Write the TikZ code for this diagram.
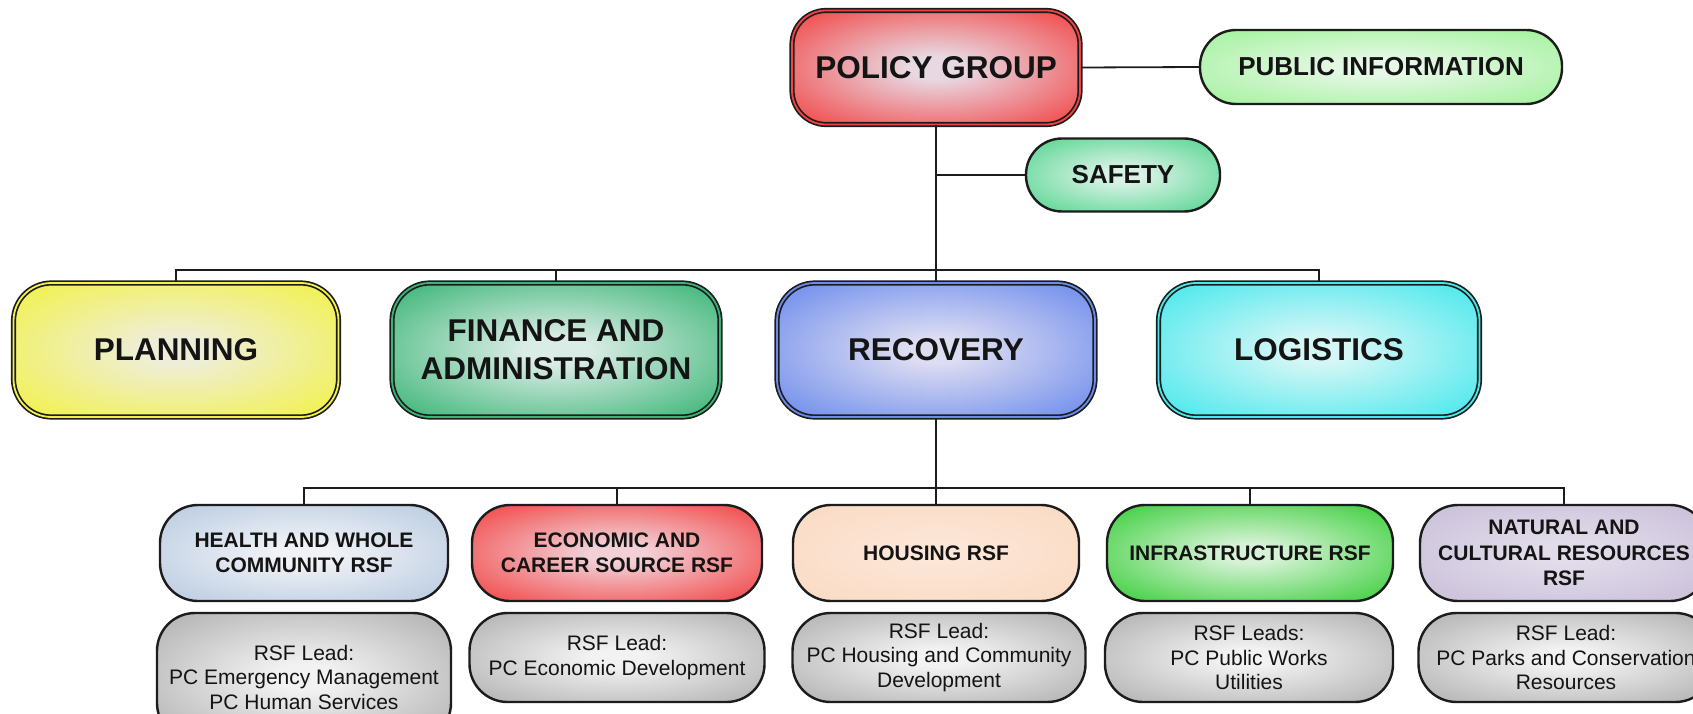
\documentclass[tikz,border=0pt]{standalone}
\usepackage{fontspec}
\setmainfont{Liberation Sans}
\makeatletter
\pgfdeclareradialshading[tikz@radial@inner,tikz@radial@outer]{softrad}{\pgfpointorigin}{color(0bp)=(tikz@radial@inner);color(5bp)=(tikz@radial@inner);color(35bp)=(tikz@radial@outer);color(50bp)=(tikz@radial@outer)}
\makeatother
\definecolor{txt}{HTML}{141414}
\definecolor{edge}{HTML}{1C1C1C}
\definecolor{polO}{HTML}{F24242}\definecolor{polI}{HTML}{E8D8E2}
\definecolor{pubO}{HTML}{A2F29C}\definecolor{pubI}{HTML}{E6F8E6}
\definecolor{safO}{HTML}{52D48C}\definecolor{safI}{HTML}{D8F2E6}
\definecolor{plaO}{HTML}{F2F246}\definecolor{plaI}{HTML}{EEEED8}
\definecolor{finO}{HTML}{38B474}\definecolor{finI}{HTML}{DAECE6}
\definecolor{recO}{HTML}{6A8AEC}\definecolor{recI}{HTML}{DCDCF2}
\definecolor{logO}{HTML}{44E8EC}\definecolor{logI}{HTML}{D4F6F6}
\definecolor{heaO}{HTML}{B8CAE0}\definecolor{heaI}{HTML}{F0F2F6}
\definecolor{ecoO}{HTML}{F24242}\definecolor{ecoI}{HTML}{F2D0D6}
\definecolor{houO}{HTML}{FADAC2}\definecolor{houI}{HTML}{FCE6D8}
\definecolor{infO}{HTML}{38CE38}\definecolor{infI}{HTML}{D6F2D6}
\definecolor{natO}{HTML}{C9BFD9}\definecolor{natI}{HTML}{E2DCEA}
\definecolor{gryO}{HTML}{B0B0B0}\definecolor{gryI}{HTML}{F2F2F2}
\tikzset{
  base/.style={rectangle, inner sep=0pt, align=center, text=txt},
  topbox/.style 2 args={base, inner color=#1, outer color=#2, shading=softrad,
    draw=edge, line width=1.7pt, double=#2, double distance=1.8pt,
    rounded corners=38pt, font=\fontsize{31.5}{38}\selectfont\bfseries},
  pill/.style 2 args={base, inner color=#1, outer color=#2, shading=softrad,
    draw=edge, line width=2.4pt, rounded corners=36pt,
    font=\fontsize{26}{31}\selectfont\bfseries},
  rsfbox/.style 2 args={base, inner color=#1, outer color=#2, shading=softrad,
    draw=edge, line width=2.4pt, rounded corners=38pt,
    font=\fontsize{21}{25.5}\selectfont\bfseries},
  leadbox/.style={base, inner color=gryI, outer color=gryO, shading=softrad,
    draw=edge, line width=2.4pt, rounded corners=38pt,
    font=\fontsize{21}{24.5}\selectfont},
  conn/.style={draw=edge, line width=1.5pt},
  trunk/.style={draw=edge, line width=2.8pt}
}
\begin{document}
\begin{tikzpicture}[x=1pt,y=-1pt]
\useasboundingbox (0,0) rectangle (1693,714);
\clip (0,0) rectangle (1693,714);
\fill[white] (0,0) rectangle (1693,714);

% top level
\node[topbox={polI}{polO}, minimum width=288pt, minimum height=114pt, rounded corners=34pt] (policy) at (936,67.5) {POLICY GROUP};
\node[pill={pubI}{pubO}, minimum width=362pt, minimum height=74pt] (public) at (1381,67) {PUBLIC INFORMATION};
\node[pill={safI}{safO}, minimum width=194pt, minimum height=73pt] (safety) at (1123,175) {SAFETY};

% sections
\node[topbox={plaI}{plaO}, minimum width=325pt, minimum height=134pt] (planning) at (176,350) {PLANNING};
\node[topbox={finI}{finO}, minimum width=328pt, minimum height=134pt] (finance) at (556,350) {FINANCE AND\\ADMINISTRATION};
\node[topbox={recI}{recO}, minimum width=318pt, minimum height=134pt] (recovery) at (936,350) {RECOVERY};
\node[topbox={logI}{logO}, minimum width=321pt, minimum height=134pt] (logistics) at (1319,350) {LOGISTICS};

% RSF row
\node[rsfbox={heaI}{heaO}, minimum width=288pt, minimum height=96pt] (health) at (304,553) {HEALTH AND WHOLE\\COMMUNITY RSF};
\node[rsfbox={ecoI}{ecoO}, minimum width=290pt, minimum height=96pt] (economic) at (617,553) {ECONOMIC AND\\CAREER SOURCE RSF};
\node[rsfbox={houI}{houO}, minimum width=286pt, minimum height=96pt] (housing) at (936,553) {HOUSING RSF};
\node[rsfbox={infI}{infO}, minimum width=286pt, minimum height=96pt] (infra) at (1250,553) {INFRASTRUCTURE RSF};
\node[rsfbox={natI}{natO}, minimum width=288pt, minimum height=96pt] (natural) at (1564,553) {NATURAL AND\\CULTURAL RESOURCES\\RSF};

% leads row
\node[leadbox, minimum width=294pt, minimum height=128pt] (healthL) at (304,677) {RSF Lead:\\PC Emergency Management\\PC Human Services};
\node[leadbox, minimum width=295pt, minimum height=89pt] (economicL) at (617,657.5) {RSF Lead:\\PC Economic Development};
\node[leadbox, minimum width=293pt, minimum height=89pt] (housingL) at (939,657.5) {RSF Lead:\\PC Housing and Community\\Development};
\node[leadbox, minimum width=288pt, minimum height=89pt] (infraL) at (1249,657.5) {RSF Leads:\\PC Public Works\\Utilities};
\node[leadbox, minimum width=295pt, minimum height=89pt] (naturalL) at (1566,657.5) {RSF Lead:\\PC Parks and Conservation\\Resources};

% connectors
\draw[trunk] (policy.south) -- (recovery.north);
\draw[conn, line width=1.8pt] (policy.east) -- (public.west);
\coordinate (sj) at (936,175);
\draw[conn] (sj) -- (safety.west);
\draw[conn] (planning.north) -- ++(0,-12) -| (logistics.north);
\draw[conn] (finance.north) -- ++(0,-12);
\draw[trunk, line width=2.4pt] (recovery.south) -- (housing.north);
\draw[conn] (health.north) -- ++(0,-16) -| (natural.north);
\draw[conn] (economic.north) -- ++(0,-16);
\draw[conn] (infra.north) -- ++(0,-16);
\end{tikzpicture}
\end{document}
